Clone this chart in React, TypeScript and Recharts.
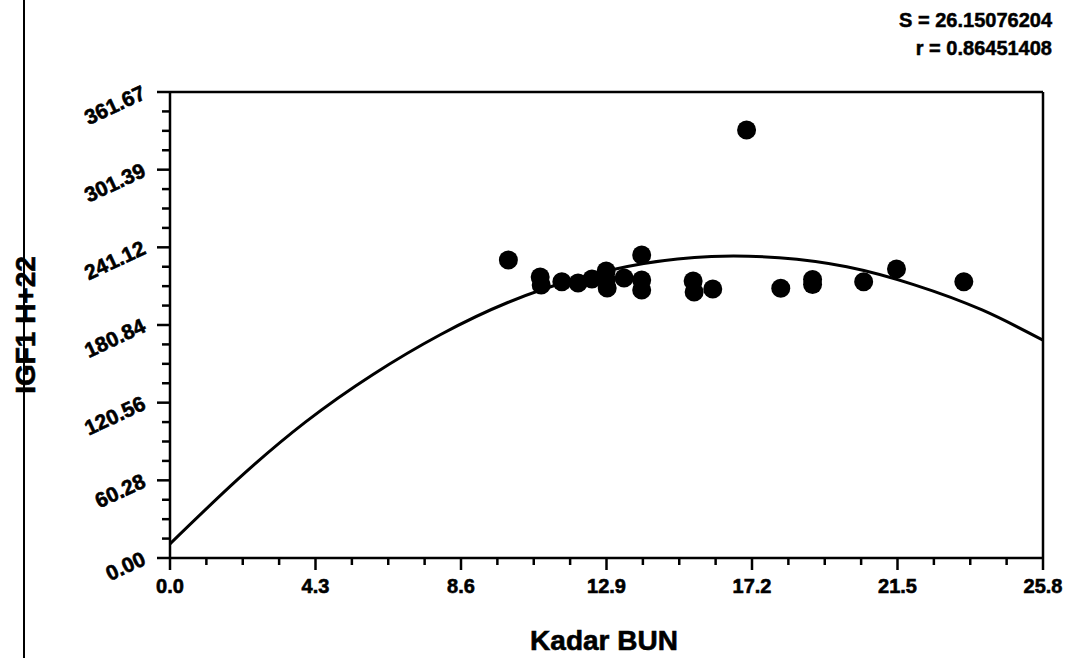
import React from 'react';
import { ComposedChart, XAxis, YAxis, Scatter, Line, ReferenceLine } from 'recharts';

// ---- data ----
const xMajorTicks = [0, 4.3, 8.6, 12.9, 17.2, 21.5, 25.8];
const xTickLabels = ['0.0', '4.3', '8.6', '12.9', '17.2', '21.5', '25.8'];
const yMajorTicks = [0, 60.28, 120.56, 180.84, 241.12, 301.39, 361.67];
const yTickLabels = ['0.00', '60.28', '120.56', '180.84', '241.12', '301.39', '361.67'];

const bunValues = [10.0, 10.94, 10.97, 11.58, 12.06, 12.47, 12.89, 12.89, 12.92, 13.42, 13.94, 13.94, 13.94, 15.46, 15.49, 16.04, 17.04, 18.05, 18.99, 18.99, 20.5, 21.47, 23.46];
const igfValues = [231.3, 218.1, 211.9, 214.4, 213.4, 216.5, 222.7, 216.0, 209.5, 217.3, 235.2, 215.8, 208.0, 215.0, 206.4, 208.8, 332.2, 209.3, 216.1, 212.3, 214.4, 224.3, 214.4];

const fitX = [0, 2, 4, 6, 8, 10, 12, 14, 16, 18, 20, 22, 24, 25.8];
const fitY = [11, 61, 105.5, 142.5, 173.5, 198.5, 216.5, 228.5, 234, 233, 226, 212, 192.5, 169];

const xTitle = 'Kadar BUN';
const yTitle = 'IGF1 H+22';
const statLines = ['S = 26.15076204', 'r = 0.86451408'];

// ---- derived tables ----
const points = bunValues.map((x, i) => ({ x, y: igfValues[i] }));
const fitData = fitX.map((x, i) => ({ x, y: fitY[i] }));

const subdivide = (majors: number[], parts: number) => {
  const out: number[] = [];
  for (let i = 0; i < majors.length - 1; i++) {
    const a = majors[i];
    const b = majors[i + 1];
    for (let k = 0; k < parts; k++) out.push(a + ((b - a) * k) / parts);
  }
  out.push(majors[majors.length - 1]);
  return out;
};
const xAllTicks = subdivide(xMajorTicks, 4);
const yAllTicks = subdivide(yMajorTicks, 4);

const FONT = '"Liberation Sans", Arial, sans-serif';

const XTick = (props: any) => {
  const { x, y, payload } = props;
  const idx = xMajorTicks.findIndex((v) => Math.abs(v - payload.value) < 1e-6);
  const major = idx >= 0;
  return (
    <g>
      <line x1={x} x2={x} y1={y} y2={y + (major ? 12 : 7)} stroke="#000" strokeWidth={2.5} />
      {major && (
        <text
          x={x}
          y={y + 35}
          textAnchor="middle"
          fontFamily={FONT}
          fontWeight="bold"
          fontSize={20}
          fill="#000"
          stroke="#000"
          strokeWidth={0.6}
        >
          {xTickLabels[idx]}
        </text>
      )}
    </g>
  );
};

const YTick = (props: any) => {
  const { x, y, payload } = props;
  const idx = yMajorTicks.findIndex((v) => Math.abs(v - payload.value) < 1e-6);
  const major = idx >= 0;
  const tx = x - 23;
  const ty = y + 6;
  return (
    <g>
      <line x1={x} x2={x - (major ? 13 : 8)} y1={y} y2={y} stroke="#000" strokeWidth={2.5} />
      {major && (
        <text
          x={tx}
          y={ty}
          textAnchor="end"
          transform={`rotate(-25, ${tx}, ${ty})`}
          fontFamily={FONT}
          fontWeight="bold"
          fontSize={21}
          fill="#000"
          stroke="#000"
          strokeWidth={0.6}
        >
          {yTickLabels[idx]}
        </text>
      )}
    </g>
  );
};

const Dot = (props: any) => {
  const { cx, cy } = props;
  return <circle cx={cx} cy={cy} r={9.5} fill="#000" />;
};

export default function App() {
  return (
    <div style={{ position: 'absolute', left: 0, top: 0, width: 1068, height: 658, background: '#fff' }}>
      <ComposedChart width={1068} height={658} margin={{ top: 92, right: 25, bottom: 40, left: 50 }}>
        <XAxis
          type="number"
          dataKey="x"
          domain={[0, 25.8]}
          allowDataOverflow
          ticks={xAllTicks}
          interval={0}
          tick={<XTick />}
          tickLine={false}
          tickSize={0}
          tickMargin={0}
          height={60}
          axisLine={{ stroke: '#000', strokeWidth: 2.5 }}
        />
        <YAxis
          type="number"
          domain={[0, 361.67]}
          allowDataOverflow
          ticks={yAllTicks}
          interval={0}
          tick={<YTick />}
          tickLine={false}
          tickSize={0}
          tickMargin={0}
          width={120}
          axisLine={{ stroke: '#000', strokeWidth: 2.5 }}
        />
        <ReferenceLine y={361.67} stroke="#000" strokeWidth={2.5} />
        <ReferenceLine x={25.8} stroke="#000" strokeWidth={2.5} />
        <Line
          data={fitData}
          dataKey="y"
          type="natural"
          stroke="#000"
          strokeWidth={3}
          dot={false}
          activeDot={false}
          isAnimationActive={false}
        />
        <Scatter data={points} dataKey="y" fill="#000" shape={<Dot />} isAnimationActive={false} />
      </ComposedChart>
      <svg
        width={1068}
        height={658}
        style={{ position: 'absolute', left: 0, top: 0, pointerEvents: 'none' }}
      >
        <line x1={24} x2={24} y1={0} y2={658} stroke="#000" strokeWidth={2} />
        <text
          x={35}
          y={325}
          textAnchor="middle"
          transform="rotate(-90, 35, 325)"
          fontFamily={FONT}
          fontWeight="bold"
          fontSize={28}
          fill="#000"
          stroke="#000"
          strokeWidth={0.6}
        >
          {yTitle}
        </text>
        <text
          x={604}
          y={650}
          textAnchor="middle"
          fontFamily={FONT}
          fontWeight="bold"
          fontSize={28}
          fill="#000"
          stroke="#000"
          strokeWidth={0.6}
        >
          {xTitle}
        </text>
        {statLines.map((s, i) => (
          <text
            key={s}
            x={1052}
            y={27 + i * 28}
            textAnchor="end"
            fontFamily={FONT}
            fontWeight="bold"
            fontSize={20}
            fill="#000"
            stroke="#000"
            strokeWidth={0.5}
          >
            {s}
          </text>
        ))}
      </svg>
    </div>
  );
}
